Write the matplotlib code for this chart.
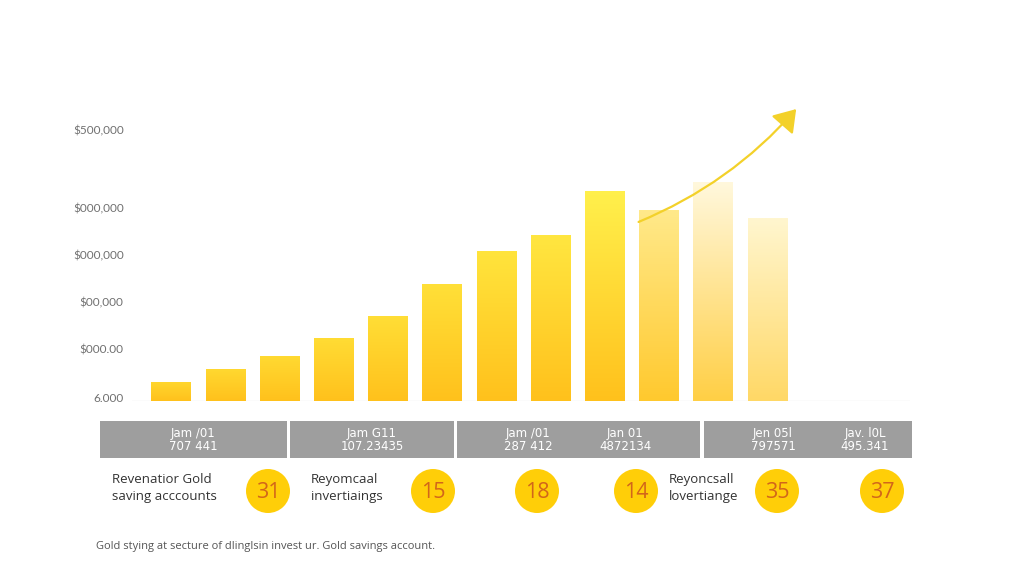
import numpy as np
import matplotlib
matplotlib.use("Agg")
import matplotlib.pyplot as plt
from matplotlib.patches import Rectangle, Circle, FancyArrowPatch
from matplotlib.colors import to_rgba

# ---------------- data ----------------
bar_values = [40000, 68000, 96000, 134000, 181000, 249000,
              319000, 353000, 447000, 406000, 466000, 389000]
ytick_values = [8500, 110600, 210600, 310600, 410600, 576600]
ytick_labels = ["6.000", "$000.00", "$00,000", "$000,000", "$000,000", "$500,000"]

table_top = ["Jam /01", "Jam G11", "Jam /01", "Jan 01", "Jen 05l", "Jav. l0L"]
table_bottom = ["707 441", "107.23435", "287 412", "4872134", "797571", "495.341"]

badge_numbers = ["31", "15", "18", "14", "35", "37"]
badge_labels = ["Revenatior Gold\nsaving acccounts", "Reyomcaal\ninvertiaings",
                "Reyoncsall\nlovertiange"]
footer = "Gold stying at secture of dlinglsin invest ur. Gold savings account."

# ---------------- style ----------------
W, H = 1024, 585
bottom_cols = ["#FFC11C"] * 9 + ["#FFC92E", "#FFCF45", "#FFD866"]
top_cols = ["#FFD62E", "#FFD830", "#FFDA32", "#FFDC34", "#FFDE36", "#FFE038",
            "#FFE43C", "#FFE640", "#FFF04C", "#FFE98A", "#FFF8DD", "#FFF6CF"]

fig = plt.figure(figsize=(W / 100, H / 100), dpi=100)
fig.patch.set_facecolor("white")

def fx(px):
    return px / W

def fy(py):
    return 1 - py / H

# main bar axes
ax_left, ax_right, ax_top, ax_bot = 132, 910, 100, 401
ax = fig.add_axes([fx(ax_left), fy(ax_bot), (ax_right - ax_left) / W, (ax_bot - ax_top) / H])
x = np.arange(len(bar_values))
step_px = 54.2
xmin = -(171 - ax_left) / step_px
xmax = xmin + (ax_right - ax_left) / step_px
ymax = (ax_bot - ax_top) / 47 * 100000

bars = ax.bar(x, bar_values, width=0.72, color="none", edgecolor="none", zorder=2)
for b, c0, c1 in zip(bars, bottom_cols, top_cols):
    r0, r1 = np.array(to_rgba(c0)), np.array(to_rgba(c1))
    t = np.linspace(0, 1, 128)[:, None]
    grad = (r0[None, :] * (1 - t) + r1[None, :] * t)[:, None, :]
    im = ax.imshow(grad, extent=[b.get_x(), b.get_x() + b.get_width(), 0, b.get_height()],
                   origin="lower", aspect="auto", zorder=2, interpolation="bilinear")
    im.set_clip_path(b)

ax.axhline(0, color="#EDEDED", lw=1.0, zorder=1)
ax.set_xlim(xmin, xmax)
ax.set_ylim(0, ymax)
ax.set_yticks(ytick_values)
ax.set_yticklabels(ytick_labels, fontsize=8.5, color="#707070", family=["Lato", "DejaVu Sans"])
ax.tick_params(axis="y", length=0, pad=6)
ax.set_xticks([])
for s in ax.spines.values():
    s.set_visible(False)
ax.set_facecolor("none")

# overlay axes in pixel coordinates
ov = fig.add_axes([0, 0, 1, 1], zorder=3)
ov.set_xlim(0, W)
ov.set_ylim(H, 0)
ov.axis("off")
ov.patch.set_alpha(0)

# growth arrow
arr = FancyArrowPatch((636, 223), (798, 107), connectionstyle="arc3,rad=0.12",
                      arrowstyle="-|>,head_length=6,head_width=4", mutation_scale=2.2,
                      color="#F3D12A", lw=1.6)
ov.add_patch(arr)

# table row
boxes = [(100, 287), (290, 454), (457, 700), (704, 912)]
for x0, x1 in boxes:
    ov.add_patch(Rectangle((x0, 421), x1 - x0, 37, facecolor="#9E9E9E", edgecolor="none"))
col_x = [193, 372, 528, 625, 773, 865]
for cx, t1, t2 in zip(col_x, table_top, table_bottom):
    ov.text(cx, 433, t1, ha="center", va="center", color="white", fontsize=8.5,
            family=["DejaVu Sans"])
    ov.text(cx, 446, t2, ha="center", va="center", color="white", fontsize=8.5,
            family=["DejaVu Sans"])

# badges
badge_x = [268, 433, 537, 636, 777, 882]
for bx, num in zip(badge_x, badge_numbers):
    ov.add_patch(Circle((bx, 491), 22, facecolor="#FFCE08", edgecolor="none"))
    ov.text(bx, 492, num, ha="center", va="center", color="#D2661A", fontsize=15.5,
            family=["Open Sans", "DejaVu Sans"])
label_x = [112, 311, 669]
for lx, lab in zip(label_x, badge_labels):
    ov.text(lx, 488, lab, ha="left", va="center", color="#333333", fontsize=9.5,
            family=["Open Sans", "DejaVu Sans"], linespacing=1.4)

ov.text(96, 547, footer, ha="left", va="center", color="#555555", fontsize=8,
        family=["Open Sans", "DejaVu Sans"])

fig.savefig("out.png", dpi=100, facecolor="white")
